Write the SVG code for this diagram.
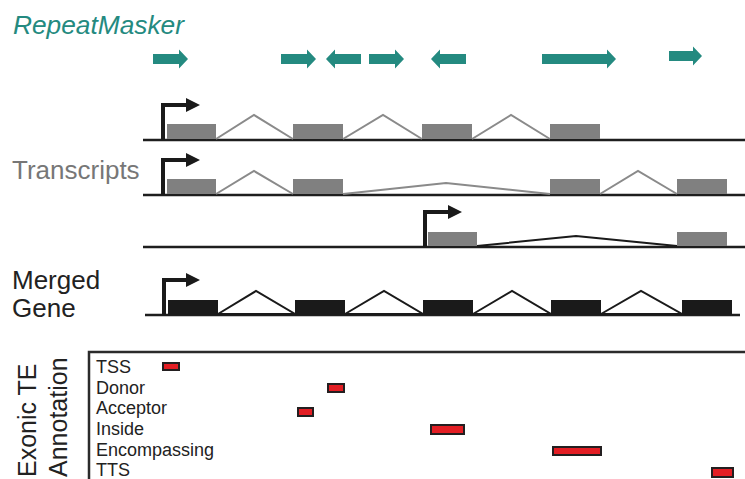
<svg xmlns="http://www.w3.org/2000/svg" width="745" height="479" viewBox="0 0 745 479">
  <style>
    .lbl { font-family: "Liberation Sans", Arial, sans-serif; }
    .te { fill: #248a80; }
    .base { stroke: #1e1e1e; stroke-width: 2.5; fill: none; }
    .exon-g { fill: #808080; }
    .exon-k { fill: #1a1a1a; }
    .intron-g { stroke: #8a8a8a; stroke-width: 2; fill: none; }
    .intron-k { stroke: #1a1a1a; stroke-width: 2; fill: none; }
    .intron-m { stroke: #1a1a1a; stroke-width: 2; fill: #fff; }
    .tss { stroke: #1a1a1a; stroke-width: 4; fill: none; }
    .tss-head { fill: #1a1a1a; }
    .ann { font-size: 18px; fill: #222; }
    .hit { fill: #e31e24; stroke: #231f20; stroke-width: 2; }
  </style>

  <!-- Track titles -->
  <text class="lbl" x="13" y="34" font-size="26.3" font-style="italic" fill="#248a80">RepeatMasker</text>
  <text class="lbl" x="12" y="179" font-size="26" fill="#777">Transcripts</text>
  <text class="lbl" x="12" y="289" font-size="26" fill="#222">Merged</text>
  <text class="lbl" x="12" y="317" font-size="26" fill="#222">Gene</text>

  <!-- Repeat elements -->
  <g id="repeats">
    <polygon class="te" points="153,54 179,54 179,49.5 188,59 179,68.5 179,64 153,64"/>
    <polygon class="te" points="281,54 307,54 307,49.5 316,59 307,68.5 307,64 281,64"/>
    <polygon class="te" points="361,54 335,54 335,49.5 326,59 335,68.5 335,64 361,64"/>
    <polygon class="te" points="369,54 395,54 395,49.5 404,59 395,68.5 395,64 369,64"/>
    <polygon class="te" points="466,54 440,54 440,49.5 431,59 440,68.5 440,64 466,64"/>
    <polygon class="te" points="542,54 607,54 607,49.5 616,59 607,68.5 607,64 542,64"/>
    <polygon class="te" points="669,51 693,51 693,46.5 702,56 693,65.5 693,61 669,61"/>
  </g>

  <!-- Transcript 1 -->
  <g id="transcript1">
    <line class="base" x1="143" y1="140" x2="745" y2="140"/>
    <polyline class="intron-g" points="216,139 254,115 293,139"/>
    <polyline class="intron-g" points="343,139 383,115 422,139"/>
    <polyline class="intron-g" points="472,139 511,115 550,139"/>
    <rect class="exon-g" x="167" y="124" width="49" height="15"/>
    <rect class="exon-g" x="293" y="124" width="50" height="15"/>
    <rect class="exon-g" x="422" y="124" width="50" height="15"/>
    <rect class="exon-g" x="550" y="124" width="50" height="15"/>
    <path class="tss" d="M163,140 V105 H188"/>
    <polygon class="tss-head" points="186,98 200,105 186,112"/>
  </g>

  <!-- Transcript 2 -->
  <g id="transcript2">
    <line class="base" x1="143" y1="195" x2="745" y2="195"/>
    <polyline class="intron-g" points="216,194 254,171 293,194"/>
    <polyline class="intron-g" points="343,194 446,183 550,194"/>
    <polyline class="intron-g" points="600,194 638,171 677,194"/>
    <rect class="exon-g" x="167" y="179" width="49" height="15"/>
    <rect class="exon-g" x="293" y="179" width="50" height="15"/>
    <rect class="exon-g" x="550" y="179" width="50" height="15"/>
    <rect class="exon-g" x="677" y="179" width="50" height="15"/>
    <path class="tss" d="M163,195 V160 H188"/>
    <polygon class="tss-head" points="186,153 200,160 186,167"/>
  </g>

  <!-- Transcript 3 -->
  <g id="transcript3">
    <line class="base" x1="143" y1="247" x2="745" y2="247"/>
    <polyline class="intron-k" points="477,246 576,236 677,246"/>
    <rect class="exon-g" x="428" y="232" width="49" height="14"/>
    <rect class="exon-g" x="677" y="232" width="50" height="14"/>
    <path class="tss" d="M425,247 V212 H450"/>
    <polygon class="tss-head" points="448,205 462,212 448,219"/>
  </g>

  <!-- Merged gene model -->
  <g id="merged-gene">
    <line class="base" x1="145" y1="315" x2="740" y2="315"/>
    <polygon class="intron-m" points="218,314 256,291 295,314"/>
    <polygon class="intron-m" points="345,314 384,291 423,314"/>
    <polygon class="intron-m" points="473,314 512,291 551,314"/>
    <polygon class="intron-m" points="601,314 641,291 682,314"/>
    <rect class="exon-k" x="168" y="300" width="50" height="15"/>
    <rect class="exon-k" x="295" y="300" width="50" height="15"/>
    <rect class="exon-k" x="423" y="300" width="50" height="15"/>
    <rect class="exon-k" x="551" y="300" width="50" height="15"/>
    <rect class="exon-k" x="682" y="300" width="50" height="15"/>
    <path class="tss" d="M164,315 V280 H188"/>
    <polygon class="tss-head" points="186,273 200,280 186,287"/>
  </g>

  <!-- Exonic TE annotation panel -->
  <g id="annotation">
    <text class="lbl" transform="translate(36,477) rotate(-90)" font-size="25" fill="#222">Exonic TE</text>
    <text class="lbl" transform="translate(67,477) rotate(-90)" font-size="25" fill="#222">Annotation</text>
    <path d="M89,479 V352 H745" stroke="#2b2b2b" stroke-width="2.5" fill="none"/>
    <text class="lbl ann" x="96" y="373">TSS</text>
    <text class="lbl ann" x="96" y="394">Donor</text>
    <text class="lbl ann" x="96" y="414">Acceptor</text>
    <text class="lbl ann" x="96" y="435">Inside</text>
    <text class="lbl ann" x="96" y="456">Encompassing</text>
    <text class="lbl ann" x="96" y="476">TTS</text>
    <rect class="hit" x="163" y="363" width="16" height="7"/>
    <rect class="hit" x="328" y="384" width="16" height="8"/>
    <rect class="hit" x="298" y="408" width="15" height="8"/>
    <rect class="hit" x="431" y="425" width="33" height="9"/>
    <rect class="hit" x="553" y="447" width="48" height="8"/>
    <rect class="hit" x="712" y="468" width="21" height="9"/>
  </g>
</svg>
